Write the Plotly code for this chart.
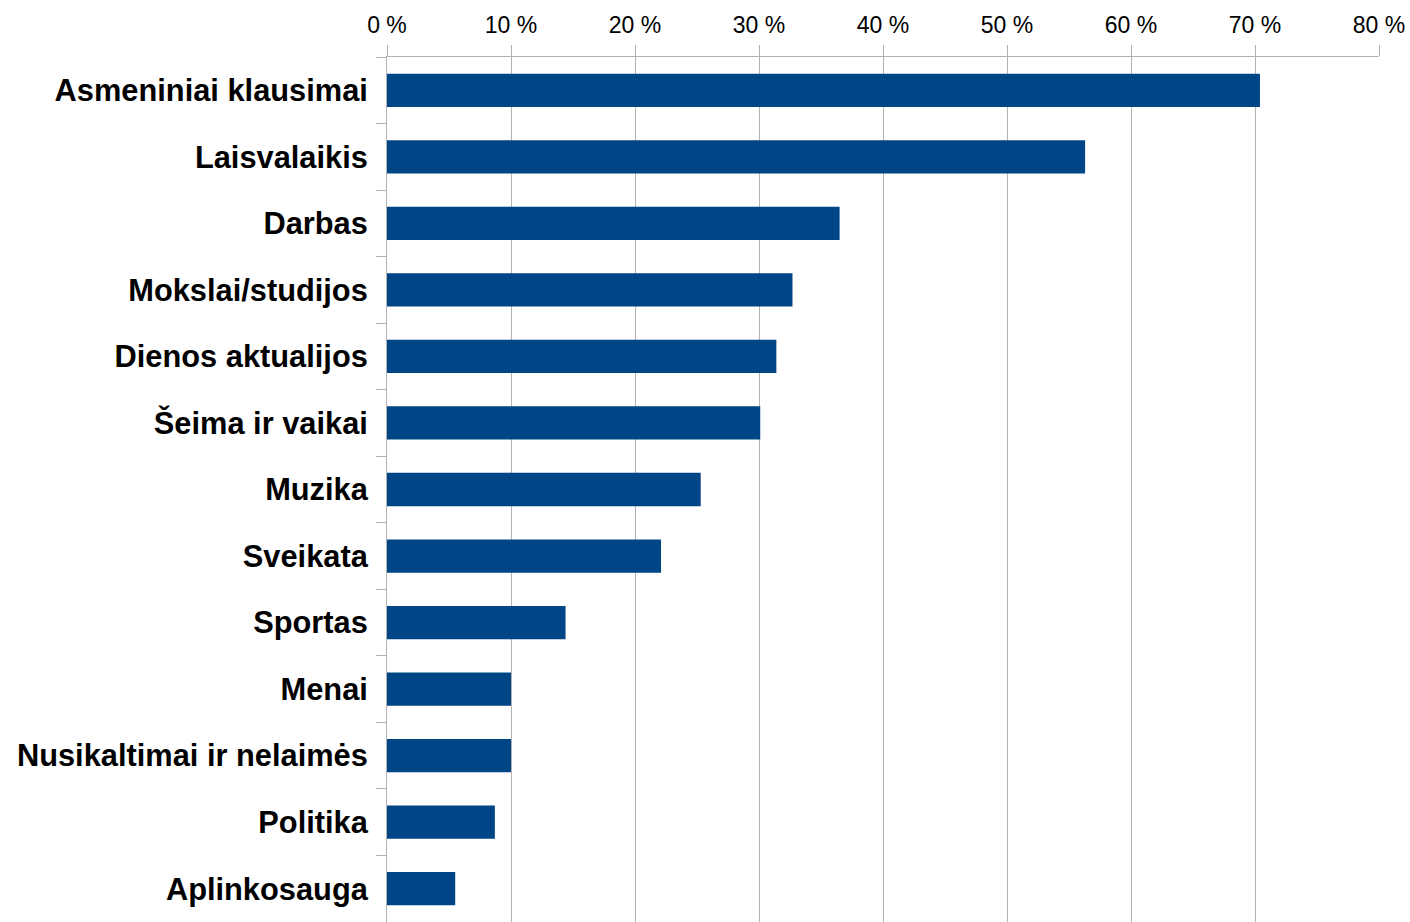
import plotly.graph_objects as go

categories = ["Asmeniniai klausimai", "Laisvalaikis", "Darbas", "Mokslai/studijos",
              "Dienos aktualijos", "Šeima ir vaikai", "Muzika", "Sveikata", "Sportas",
              "Menai", "Nusikaltimai ir nelaimės", "Politika", "Aplinkosauga"]
values = [70.4, 56.3, 36.5, 32.7, 31.4, 30.1, 25.3, 22.1, 14.4, 10.0, 10.0, 8.7, 5.5]
x_ticks = [0, 10, 20, 30, 40, 50, 60, 70, 80]
x_tick_labels = [f"{v} %" for v in x_ticks]

fig = go.Figure(go.Bar(
    x=values, y=categories, orientation="h",
    marker=dict(color="#004586", line=dict(width=0)),
    width=0.5,
))

fig.update_layout(
    width=1410, height=922,
    margin=dict(l=387, r=31, t=57, b=0),
    paper_bgcolor="white", plot_bgcolor="white",
    showlegend=False,
    font=dict(family="Liberation Sans, Arial, sans-serif", color="black"),
)
fig.update_xaxes(
    side="top", range=[0, 80], tickvals=x_ticks, ticktext=x_tick_labels,
    showgrid=True, gridcolor="#b3b3b3", gridwidth=1,
    showline=True, linecolor="#b3b3b3", linewidth=1,
    ticks="outside", ticklen=11, tickcolor="#b3b3b3",
    tickfont=dict(size=23, color="black"), zeroline=False,
    ticklabelstandoff=3,
)
fig.update_yaxes(
    type="category", range=[12.5, -0.5],
    showline=True, linecolor="#b3b3b3", linewidth=1,
    ticks="outside", ticklen=10, tickcolor="#b3b3b3", tickson="boundaries",
    tickfont=dict(size=30.8, color="black", family="Liberation Sans, Arial, sans-serif", weight="bold"),
    showgrid=False, ticklabelstandoff=12,
)
fig.write_html("out.html", config={"displayModeBar": False},
               post_script="document.body.style.margin='0';")
